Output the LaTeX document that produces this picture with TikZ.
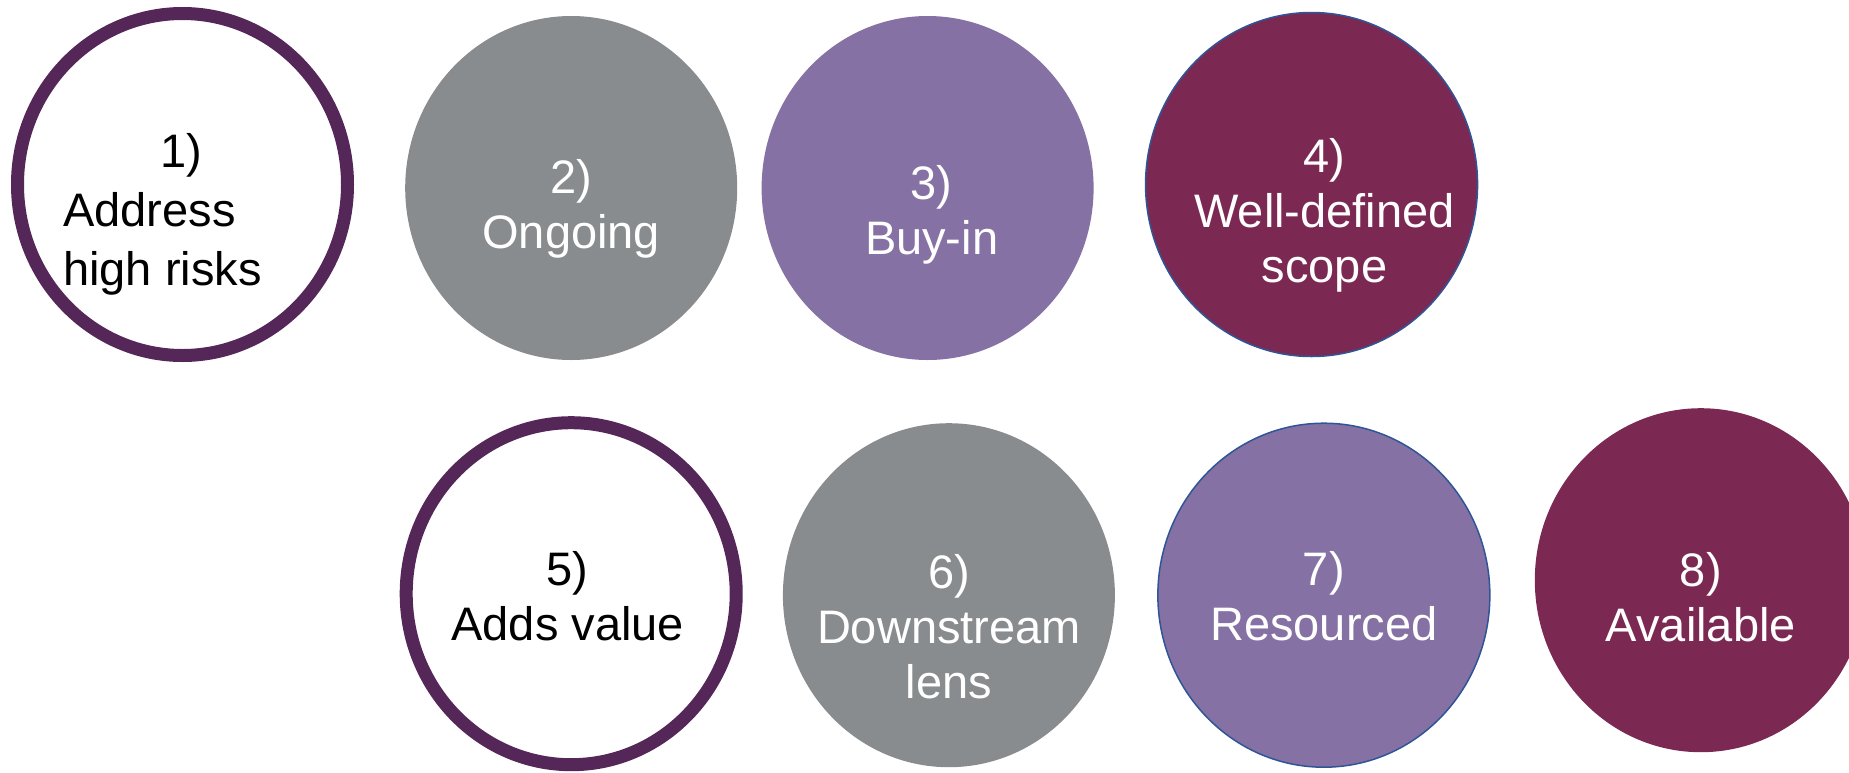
\documentclass[tikz,border=0pt]{standalone}
\usepackage{fontspec}
\setmainfont{Liberation Sans}
\usetikzlibrary{positioning,shapes.geometric}
\definecolor{ringpurple}{RGB}{85,39,89}
\definecolor{stone}{RGB}{137,140,142}
\definecolor{lilac}{RGB}{133,113,164}
\definecolor{plum}{RGB}{123,41,83}
\definecolor{edgeblue}{RGB}{47,85,151}
\tikzset{node distance=51pt,
  bubble/.style={ellipse, inner sep=0pt, minimum width=332pt, minimum height=344pt},
  ringb/.style={bubble, draw=ringpurple, line width=13pt, fill=white, minimum width=330pt, minimum height=342pt},
  stoneb/.style={bubble, fill=stone},
  lilacb/.style={bubble, fill=lilac},
  plumb/.style={bubble, fill=plum},
  rimmed/.style={draw=edgeblue, line width=1.5pt},
  lbl/.style={font=\fontsize{47}{55}\selectfont, align=center, inner sep=0pt, anchor=base},
  lblw/.style={lbl, text=white}}

\begin{document}
\begin{tikzpicture}
\useasboundingbox (0,0) rectangle (1849pt,-772pt);

% top row
\node[ringb] (c1) at (182.5pt,-184.5pt) {};
\node[stoneb] (c2) [right=of c1, yshift=-3.5pt] {};
\node[lilacb] (c3) [right=24pt of c2] {};
\node[plumb, rimmed] (c4) [right=of c3, yshift=3.5pt] {};

% bottom row
\node[ringb] (c5) [below=56pt of c2] {};
\node[stoneb] (c6) [right=40pt of c5, yshift=-1.5pt] {};
\node[lilacb, rimmed] (c7) [right=42pt of c6] {};
\node[plumb] (c8) [right=44pt of c7, yshift=15pt] {};

% labels sit on the baseline of their last line
\node[lbl, align=left, anchor=base west] (t1) at ([xshift=-119.5pt, yshift=-101pt]c1.center) {\hspace*{97pt}1)\\[4pt]Address\\[4pt]high risks};
\node[lblw] (t2) at ([yshift=-60pt]c2.center) {2)\\Ongoing};
\node[lblw] (t3) at ([xshift=4pt, yshift=-66pt]c3.center) {3)\\Buy-in};
\node[lblw] (t4) at ([xshift=13pt, yshift=-98pt]c4.center) {4)\\Well-defined\\scope};
\node[lbl] (t5) at ([xshift=-3.5pt, yshift=-47pt]c5.center) {5)\\Adds value};
\node[lblw] (t6) at ([yshift=-103.5pt]c6.center) {6)\\Downstream\\lens};
\node[lblw] (t7) at ([yshift=-45.5pt]c7.center) {7)\\Resourced};
\node[lblw] (t8) at ([yshift=-61pt]c8.center) {8)\\Available};
\end{tikzpicture}
\end{document}
